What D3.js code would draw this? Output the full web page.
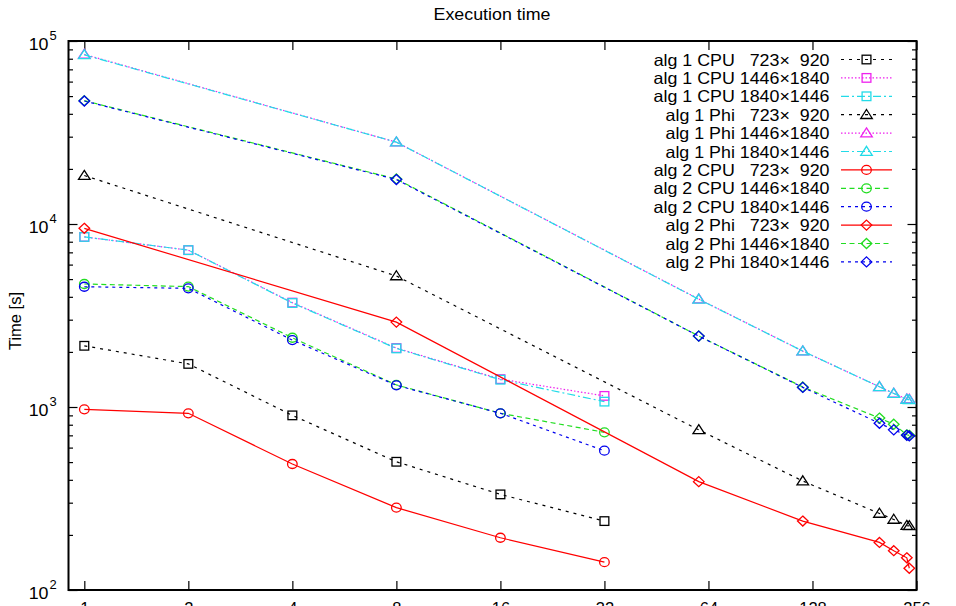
<!DOCTYPE html>
<html>
<head>
<meta charset="utf-8">
<script src="https://cdn.jsdelivr.net/npm/d3@7"></script>
<style>
  html, body { margin: 0; padding: 0; background: #fff; }
  svg { display: block; font-family: "Liberation Sans", Arial, Helvetica, sans-serif; }
</style>
</head>
<body>
<svg id="chart" width="956" height="606"></svg>
<script>
// ---------------- data ----------------
const cpuThreads = [1, 2, 4, 8, 16, 32];
const phiThreads = [1, 8, 60, 120, 200, 220, 240, 244];

const alg1Cpu723  = [2160, 1720, 900, 502, 333, 238];
const alg1Cpu1446 = [8500, 7200, 3720, 2100, 1420, 1150];
const alg1Cpu1840 = [8500, 7200, 3700, 2090, 1410, 1070];
const alg1Phi723  = [18400, 5200, 750, 394, 262, 243, 225, 224];
const alg1Phi1446 = [84500, 28000, 3890, 2020, 1290, 1188, 1105, 1100];
const alg1Phi1840 = [84000, 28000, 3880, 2020, 1290, 1185, 1100, 1095];
const alg2Cpu723  = [971, 924, 488, 282, 193, 142];
const alg2Cpu1446 = [4700, 4550, 2390, 1320, 924, 727];
const alg2Cpu1840 = [4540, 4450, 2320, 1314, 924, 577];
const alg2Phi723  = [9470, 2910, 391, 238, 182, 164, 150, 131.5];
const alg2Phi1446 = [47200, 17620, 2443, 1286, 870, 805, 705, 700];
const alg2Phi1840 = [47000, 17500, 2440, 1280, 815, 750, 700, 695];

const seriesNames = [
  "alg 1 CPU   723\u00d7  920", "alg 1 CPU 1446\u00d71840", "alg 1 CPU 1840\u00d71446",
  "alg 1 Phi   723\u00d7  920", "alg 1 Phi 1446\u00d71840", "alg 1 Phi 1840\u00d71446",
  "alg 2 CPU   723\u00d7  920", "alg 2 CPU 1446\u00d71840", "alg 2 CPU 1840\u00d71446",
  "alg 2 Phi   723\u00d7  920", "alg 2 Phi 1446\u00d71840", "alg 2 Phi 1840\u00d71446"
];
const xTickValues = [1, 2, 4, 8, 16, 32, 64, 128, 256];
const yDecades = [100, 1000, 10000, 100000];
const titleText = "Execution time";
const yLabelText = "Time [s]";

// ---------------- styles ----------------
const BLACK = "#000000", MAG = "#ee22ee", CYAN = "#22dbe8", RED = "#ff0000", GREEN = "#22dd22", BLUE = "#0000ee";
const DOT_BLACK = "3,5", DOT_MAG = "1.5,2", DASHDOT = "8,3,2,3", DASH_G = "5,3.5", DASH_B = "3,4";

const series = [
  {name: seriesNames[0],  xs: cpuThreads, ys: alg1Cpu723,  color: BLACK, dash: DOT_BLACK, marker: "square"},
  {name: seriesNames[1],  xs: cpuThreads, ys: alg1Cpu1446, color: MAG,   dash: DOT_MAG,   marker: "square"},
  {name: seriesNames[2],  xs: cpuThreads, ys: alg1Cpu1840, color: CYAN,  dash: DASHDOT,   marker: "square"},
  {name: seriesNames[3],  xs: phiThreads, ys: alg1Phi723,  color: BLACK, dash: DOT_BLACK, marker: "triangle"},
  {name: seriesNames[4],  xs: phiThreads, ys: alg1Phi1446, color: MAG,   dash: DOT_MAG,   marker: "triangle"},
  {name: seriesNames[5],  xs: phiThreads, ys: alg1Phi1840, color: CYAN,  dash: DASHDOT,   marker: "triangle"},
  {name: seriesNames[6],  xs: cpuThreads, ys: alg2Cpu723,  color: RED,   dash: null,      marker: "circle"},
  {name: seriesNames[7],  xs: cpuThreads, ys: alg2Cpu1446, color: GREEN, dash: DASH_G,    marker: "circle"},
  {name: seriesNames[8],  xs: cpuThreads, ys: alg2Cpu1840, color: BLUE,  dash: DASH_B,    marker: "circle"},
  {name: seriesNames[9],  xs: phiThreads, ys: alg2Phi723,  color: RED,   dash: null,      marker: "diamond"},
  {name: seriesNames[10], xs: phiThreads, ys: alg2Phi1446, color: GREEN, dash: DASH_G,    marker: "diamond"},
  {name: seriesNames[11], xs: phiThreads, ys: alg2Phi1840, color: BLUE,  dash: DASH_B,    marker: "diamond"}
];

// ---------------- layout ----------------
const L = 68.5, R = 916.5, T = 41, B = 590;
const STRETCH = 1.08;

const svg = d3.select("#chart");
const x = d3.scaleLog().base(2).domain([0.9, 256]).range([L, R]);
const y = d3.scaleLog().base(10).domain([100, 100000]).range([B, T]);

function stretch(sel) {
  sel.each(function() {
    const len = this.getComputedTextLength();
    d3.select(this).attr("textLength", len * STRETCH).attr("lengthAdjust", "spacingAndGlyphs");
  });
}

// minor y ticks
const yMinor = [];
for (let d = 100; d < 100000; d *= 10) for (let k = 2; k <= 9; k++) yMinor.push(d * k);

// axes (inward ticks, gnuplot style)
const gx = svg.append("g").attr("transform", `translate(0,${B})`)
  .call(d3.axisBottom(x).tickValues(xTickValues).tickSize(-9).tickPadding(12.5).tickFormat(d => String(d)));
gx.select(".domain").remove();
gx.selectAll(".tick line").attr("stroke", "#000").attr("stroke-width", 1.2);
gx.selectAll(".tick text").attr("font-size", 16.5).attr("fill", "#000")
  .attr("font-family", "'Liberation Sans', Arial, sans-serif");

const gxTop = svg.append("g").attr("transform", `translate(0,${T})`)
  .call(d3.axisTop(x).tickValues(xTickValues).tickSize(-9).tickFormat(""));
gxTop.select(".domain").remove();
gxTop.selectAll(".tick line").attr("stroke", "#000").attr("stroke-width", 1.2);

function yAxis(gen, pos, vals, size) {
  const g = svg.append("g").attr("transform", `translate(${pos},0)`)
    .call(gen(y).tickValues(vals).tickSize(size).tickFormat(""));
  g.select(".domain").remove();
  g.selectAll(".tick line").attr("stroke", "#000").attr("stroke-width", 1.2);
  return g;
}
yAxis(d3.axisLeft, L, yDecades, -9);
yAxis(d3.axisLeft, L, yMinor, -4.5);
yAxis(d3.axisRight, R, yDecades, -9);
yAxis(d3.axisRight, R, yMinor, -4.5);

// y tick labels 10^n
const yl = svg.append("g").attr("font-size", 16.5).attr("fill", "#000");
yDecades.forEach(v => {
  const yy = y(v);
  yl.append("text").attr("x", 48.5).attr("y", yy + 8.5).attr("text-anchor", "end").text("10").call(stretch);
  yl.append("text").attr("x", 49.5).attr("y", yy - 1).attr("font-size", 12)
    .text(String(Math.round(Math.log10(v)))).call(stretch);
});

// frame
svg.append("rect").attr("x", L).attr("y", T).attr("width", R - L).attr("height", B - T)
  .attr("fill", "none").attr("stroke", "#000").attr("stroke-width", 2);

// markers
function drawMarker(g, type, cx, cy, color) {
  const sw = 1.3;
  if (type === "square") {
    g.append("rect").attr("x", cx - 4.4).attr("y", cy - 4.3).attr("width", 8.8).attr("height", 8.6)
      .attr("fill", "none").attr("stroke", color).attr("stroke-width", sw);
  } else if (type === "circle") {
    g.append("ellipse").attr("cx", cx).attr("cy", cy).attr("rx", 4.8).attr("ry", 4.5)
      .attr("fill", "none").attr("stroke", color).attr("stroke-width", sw);
  } else if (type === "triangle") {
    g.append("path").attr("d", `M${cx},${cy - 5.2}L${cx + 5.8},${cy + 3.8}L${cx - 5.8},${cy + 3.8}Z`)
      .attr("fill", "none").attr("stroke", color).attr("stroke-width", sw);
  } else if (type === "diamond") {
    g.append("path").attr("d", `M${cx},${cy - 5}L${cx + 5.3},${cy}L${cx},${cy + 5}L${cx - 5.3},${cy}Z`)
      .attr("fill", "none").attr("stroke", color).attr("stroke-width", sw);
  }
}

// series
const line = d3.line().x(d => x(d[0])).y(d => y(d[1]));
const plot = svg.append("g");
series.forEach(s => {
  const pts = s.xs.map((xv, i) => [xv, s.ys[i]]);
  const g = plot.append("g");
  g.append("path").attr("d", line(pts)).attr("fill", "none").attr("stroke", s.color)
    .attr("stroke-width", 1.2).attr("stroke-dasharray", s.dash);
  pts.forEach(p => drawMarker(g, s.marker, x(p[0]), y(p[1]), s.color));
});

// legend
const leg = svg.append("g");
const legY0 = 59.5, legDy = 18.4;
series.forEach((s, i) => {
  const cy = legY0 + i * legDy;
  leg.append("text").attr("x", 829.5).attr("y", cy + 6).attr("text-anchor", "end")
    .attr("font-size", 16.5).attr("fill", "#000").attr("xml:space", "preserve")
    .style("white-space", "pre").text(s.name).call(stretch);
  leg.append("line").attr("x1", 841).attr("x2", 892).attr("y1", cy).attr("y2", cy)
    .attr("stroke", s.color).attr("stroke-width", 1.2).attr("stroke-dasharray", s.dash);
  drawMarker(leg, s.marker, 866.5, cy, s.color);
});

// title & y label
svg.append("text").attr("x", 492).attr("y", 19.5).attr("text-anchor", "middle")
  .attr("font-size", 16.5).attr("fill", "#000").text(titleText).call(stretch);
svg.append("text").attr("transform", "translate(20.5,321) rotate(-90)").attr("text-anchor", "middle")
  .attr("font-size", 16.5).attr("fill", "#000").text(yLabelText);
</script>
</body>
</html>
